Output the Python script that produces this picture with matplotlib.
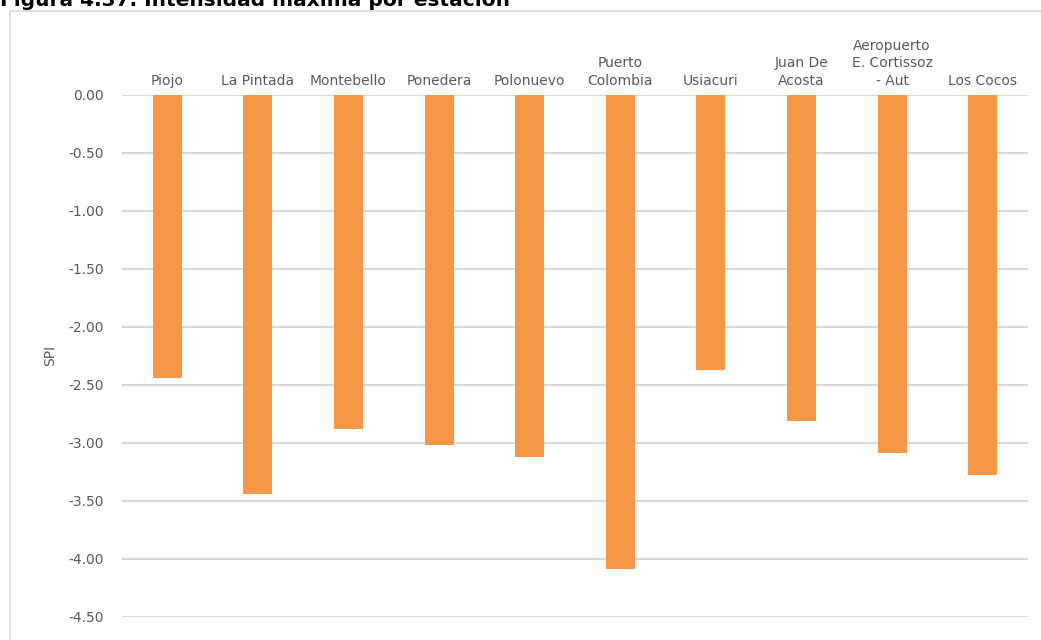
import matplotlib
matplotlib.use("Agg")
import matplotlib.pyplot as plt
from matplotlib.patches import Rectangle

stations = ["Piojo", "La Pintada", "Montebello", "Ponedera", "Polonuevo",
            "Puerto\nColombia", "Usiacuri", "Juan De\nAcosta",
            "Aeropuerto\nE. Cortissoz\n- Aut", "Los Cocos"]
spi = [-2.44, -3.44, -2.88, -3.02, -3.12, -4.09, -2.37, -2.81, -3.09, -3.28]
yticks = [0.0, -0.5, -1.0, -1.5, -2.0, -2.5, -3.0, -3.5, -4.0, -4.5]

W, H = 1041, 640
fig = plt.figure(figsize=(W / 100, H / 100), dpi=100)
fig.patch.set_facecolor("white")

# chart border
fig.patches.append(Rectangle((10 / W, -0.1), 1.2, (H - 11) / H + 0.1,
                             transform=fig.transFigure, fill=False,
                             edgecolor="#d9d9d9", linewidth=1.2))

ax = fig.add_axes([122 / W, 1 - 617 / H, (1028 - 122) / W, (617 - 94.5) / H])
x = list(range(len(stations)))
ax.bar(x, spi, width=0.32, color="#F79646", zorder=3)
ax.set_xlim(-0.5, len(stations) - 0.5)
ax.set_ylim(-4.5, 0)
ax.set_yticks(yticks)
ax.set_yticklabels([f"{v:.2f}" for v in yticks], fontsize=10, color="#595959")
ax.yaxis.grid(True, color="#d9d9d9", linewidth=1.5, zorder=0)
ax.set_axisbelow(True)
for s in ax.spines.values():
    s.set_visible(False)
ax.tick_params(axis="y", length=0, pad=13)
ax.xaxis.tick_top()
ax.set_xticks(x)
ax.set_xticklabels(stations, fontsize=10, color="#595959", linespacing=1.3)
ax.tick_params(axis="x", length=0, pad=5)
ax.set_ylabel("SPI", fontsize=10, color="#595959", labelpad=8)

fig.text(0, 1 - 6 / H, "Figura 4.37. Intensidad máxima por estación",
         fontsize=14.5, fontweight="bold", color="#000000",
         ha="left", va="baseline")

fig.savefig("out.png", dpi=100)
